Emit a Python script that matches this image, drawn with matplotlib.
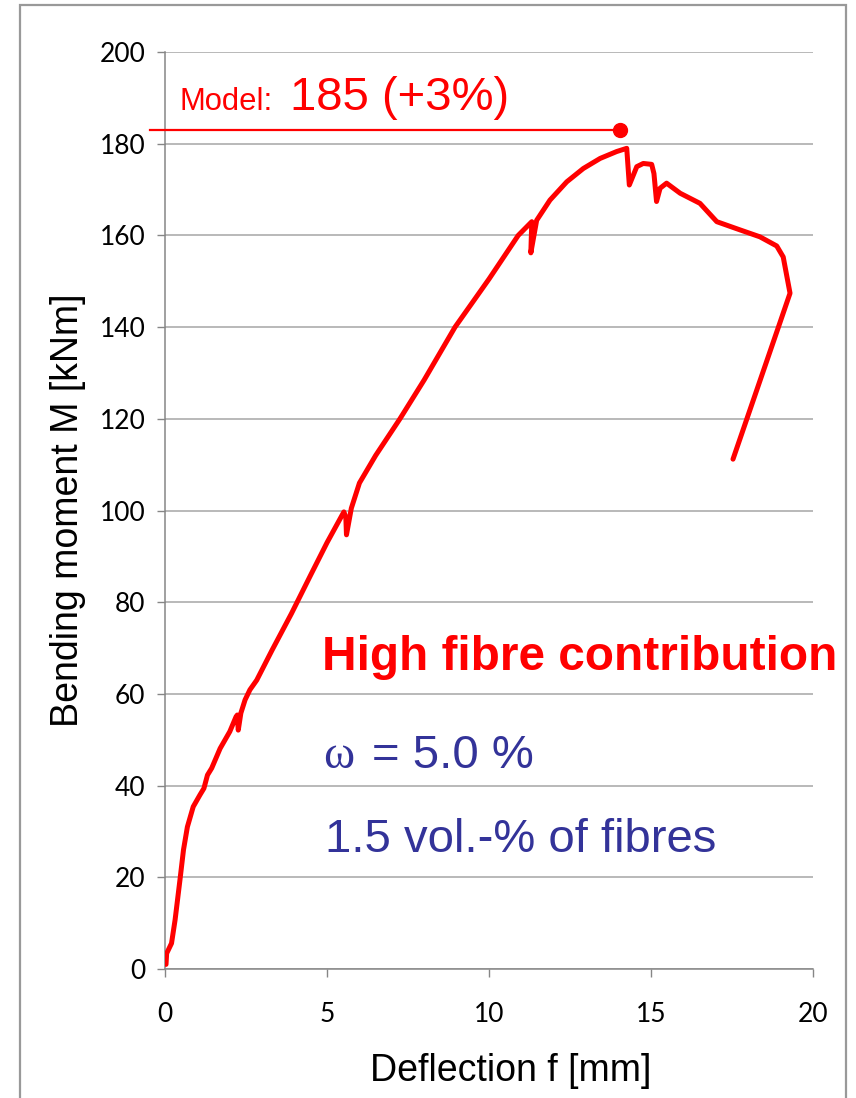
import matplotlib.pyplot as plt
from matplotlib.patches import Rectangle

deflection = [0.03, 0.05, 0.2, 0.31, 0.46, 0.57, 0.69, 0.87, 1.08, 1.2, 1.31, 1.44, 1.7, 2.0,
              2.19, 2.23, 2.26, 2.34, 2.47, 2.62, 2.83, 3.3, 3.9, 4.5, 5.0, 5.52, 5.58,
              5.6, 5.75, 6.0, 6.5, 7.25, 8.0, 8.95, 10.0, 10.9, 11.32, 11.29, 11.47,
              11.88, 12.4, 12.91, 13.43, 13.94, 14.25, 14.33, 14.56, 14.76, 15.02, 15.09,
              15.17, 15.28, 15.48, 15.9, 16.51, 17.03, 17.75, 18.36, 18.88, 19.08, 19.29,
              18.98, 17.53]
moment = [1.0, 3.4, 5.6, 10.7, 19.4, 26.0, 31.0, 35.4, 38.0, 39.4, 42.3, 43.8, 48.1, 51.8,
          55.0, 55.4, 52.1, 55.8, 58.7, 60.9, 63.0, 69.5, 77.5, 86.0, 93.0, 99.7, 98.5,
          94.7, 100.5, 106.0, 112.0, 120.0, 128.5, 140.0, 150.5, 160.0, 163.0,
          156.2, 163.3, 167.7, 171.7, 174.6, 176.8, 178.3, 179.0, 171.0, 175.0, 175.7,
          175.5, 173.5, 167.4, 170.3, 171.4, 169.2, 167.0, 163.0, 161.2, 159.7, 157.7,
          155.3, 147.4, 141.0, 111.2]

model_f = 14.04
model_m = 183.0

x_ticks = [0, 5, 10, 15, 20]
y_ticks = [0, 20, 40, 60, 80, 100, 120, 140, 160, 180, 200]

red = '#ff0000'
navy = '#333399'

fig = plt.figure(figsize=(8.56, 10.98), dpi=100)
ax = fig.add_axes([0.1928, 0.1175, 0.757, 0.8351])

ax.plot(deflection, moment, color=red, linewidth=3.6, solid_joinstyle='round',
        solid_capstyle='round', zorder=3)

# model prediction line and dot
ax.plot([-0.47, model_f], [model_m, model_m], color=red, linewidth=1.6, clip_on=False, zorder=3)
ax.plot([model_f], [model_m], 'o', color=red, markersize=10, zorder=4)

ax.set_xlim(0, 20)
ax.set_ylim(0, 200)
ax.set_xticks(x_ticks)
ax.set_yticks(y_ticks)
ax.set_xticklabels([str(t) for t in x_ticks], fontfamily='Lato', fontsize=19)
ax.set_yticklabels([str(t) for t in y_ticks], fontfamily='Lato', fontsize=19)
ax.tick_params(axis='x', length=6, width=1, color='#868686', pad=18)
ax.tick_params(axis='y', length=6, width=1, color='#868686', pad=8)

ax.yaxis.grid(True, color='#a6a6a6', linewidth=1.1)
ax.set_axisbelow(True)
for s in ['top', 'right']:
    ax.spines[s].set_visible(False)
for s in ['left', 'bottom']:
    ax.spines[s].set_color('#868686')
    ax.spines[s].set_linewidth(1.1)

ax.set_xlabel('Deflection f [mm]', fontfamily='Liberation Sans', fontsize=27)
ax.xaxis.set_label_coords(0.534, -0.092)
ax.set_ylabel('Bending moment M [kNm]', fontfamily='Liberation Sans', fontsize=27, labelpad=10)

# annotations
ax.text(0.46, 187.3, 'Model:', color=red, fontfamily='Liberation Sans', fontsize=22.3)
ax.text(3.86, 187.3, '185 (+3%)', color=red, fontfamily='Liberation Sans', fontsize=34)
ax.text(4.85, 65.2, 'High fibre contribution', color=red, fontfamily='Liberation Sans',
        fontsize=34.4, fontweight='bold')
ax.text(4.88, 43.8, 'ω', color=navy, fontfamily='Liberation Serif', fontsize=34)
ax.text(6.38, 43.8, '= 5.0 %', color=navy, fontfamily='Liberation Sans', fontsize=34)
ax.text(4.94, 25.5, '1.5 vol.-% of fibres', color=navy, fontfamily='Liberation Sans', fontsize=34)

# frame around the picture
fig.patches.append(Rectangle((0.0228, -0.02), 0.9655, 1.0154, transform=fig.transFigure,
                             fill=False, edgecolor='#999999', linewidth=1.6))

fig.savefig('out.png', dpi=100)
